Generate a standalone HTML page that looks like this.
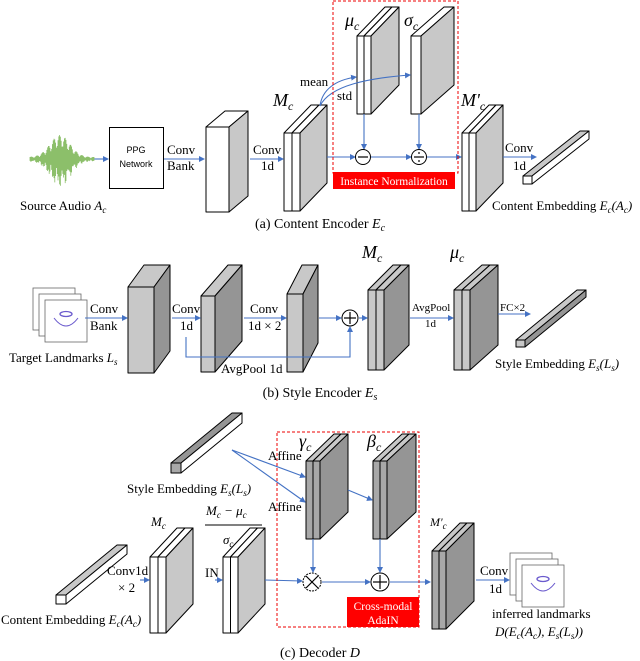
<!DOCTYPE html>
<html><head><meta charset="utf-8"><style>
html,body{margin:0;padding:0;background:#fff;}
svg{display:block;font-family:"Liberation Serif",serif;}
</style></head><body>
<svg id="s" width="640" height="661" viewBox="0 0 640 661" xmlns="http://www.w3.org/2000/svg">
<defs>
<marker id="ar" markerWidth="6" markerHeight="6" refX="5" refY="3" orient="auto" markerUnits="userSpaceOnUse"><path d="M0,0 L6,3 L0,6 z" fill="#4472c4"/></marker>
</defs>
<g id="shapes"></g>
<g stroke="#4472c4" stroke-width="1.1" fill="none" marker-end="url(#ar)">
<!-- (a) -->
<line x1="94" y1="159" x2="108" y2="159"/>
<line x1="164" y1="159" x2="204" y2="159"/>
<line x1="250" y1="159" x2="283" y2="159"/>
<path d="M320,106 C322,90 335,80 356,77"/>
<path d="M320,106 C330,85 370,78 410,75"/>
<line x1="364" y1="114" x2="364" y2="149"/>
<line x1="419" y1="114" x2="419" y2="149"/>
<line x1="327" y1="157" x2="355" y2="157"/>
<line x1="371" y1="157" x2="411" y2="157"/>
<line x1="427" y1="157" x2="461" y2="157"/>
<line x1="503" y1="157" x2="536" y2="157"/>
<!-- (b) -->
<line x1="85" y1="318" x2="127" y2="318"/>
<line x1="172" y1="318" x2="200" y2="318"/>
<line x1="244" y1="318" x2="286" y2="318"/>
<line x1="319" y1="318" x2="341" y2="318"/>
<line x1="359" y1="318" x2="367" y2="318"/>
<line x1="410" y1="318" x2="453" y2="318"/>
<line x1="498" y1="314" x2="530" y2="314"/>
<polyline points="186,337 186,357 350,357 350,327"/>
<!-- (c) -->
<line x1="232" y1="450" x2="305" y2="477"/>
<line x1="232" y1="450" x2="305" y2="502"/>
<line x1="348" y1="490" x2="372" y2="500"/>
<line x1="313" y1="539" x2="313" y2="572"/>
<line x1="380" y1="539" x2="380" y2="572"/>
<line x1="140" y1="580" x2="149" y2="580"/>
<line x1="215" y1="580" x2="222" y2="580"/>
<line x1="265" y1="580" x2="302" y2="581"/>
<line x1="322" y1="582" x2="370" y2="582"/>
<line x1="390" y1="582" x2="430" y2="582"/>
<line x1="476" y1="580" x2="509" y2="580"/>
</g>
<!-- red dashed boxes -->
<rect x="333" y="1" width="125" height="172" fill="none" stroke="#e00" stroke-width="1" stroke-dasharray="3,2"/>
<rect x="333" y="172" width="122" height="17" fill="#f00"/>
<text x="394" y="185" font-size="11.5" fill="#fff" text-anchor="middle">Instance Normalization</text>
<rect x="277" y="432" width="142" height="195" fill="none" stroke="#e00" stroke-width="1" stroke-dasharray="3,2"/>
<rect x="347" y="597" width="72" height="30" fill="#f00"/>
<text x="383" y="610" font-size="11.5" fill="#fff" text-anchor="middle">Cross-modal</text>
<text x="383" y="624" font-size="11.5" fill="#fff" text-anchor="middle">AdaIN</text>
<!-- circles -->
<g fill="#fff" stroke="#000" stroke-width="1">
<circle cx="363" cy="157" r="7.5"/><circle cx="419" cy="157" r="7.5"/>
<circle cx="350" cy="318" r="8"/>
<circle cx="312" cy="582" r="9" stroke-dasharray="2,1"/><circle cx="380" cy="582" r="9"/>
</g>
<g stroke="#000" stroke-width="1.2">
<line x1="358" y1="157" x2="368" y2="157"/>
<line x1="414" y1="157" x2="424" y2="157"/>
<line x1="344" y1="318" x2="356" y2="318"/><line x1="350" y1="312" x2="350" y2="324"/>
<line x1="306" y1="576" x2="318" y2="588"/><line x1="318" y1="576" x2="306" y2="588"/>
<line x1="373" y1="582" x2="387" y2="582"/><line x1="380" y1="575" x2="380" y2="589"/>
</g>
<circle cx="419" cy="153" r="0.9"/><circle cx="419" cy="161" r="0.9"/>
<!-- PPG box -->
<rect x="109.5" y="127.5" width="54" height="61" fill="#fff" stroke="#000"/>
<text x="136" y="153" font-family="Liberation Sans,sans-serif" font-size="9" text-anchor="middle">PPG</text>
<text x="136" y="167" font-family="Liberation Sans,sans-serif" font-size="9" text-anchor="middle">Network</text>
<g id="wave"></g>
<!-- texts (a) -->
<g font-size="13">
<text x="167" y="154">Conv</text><text x="167" y="170">Bank</text>
<text x="253" y="154">Conv</text><text x="261" y="170">1d</text>
<text x="300" y="86">mean</text>
<text x="337" y="100">std</text>
<text x="505" y="152">Conv</text><text x="513" y="170">1d</text>
<text x="20" y="210">Source Audio <tspan font-style="italic">A<tspan font-size="9" dy="3">c</tspan></tspan></text>
<text x="492" y="210">Content Embedding <tspan font-style="italic">E<tspan font-size="9" dy="3">c</tspan><tspan dy="-3">(A</tspan><tspan font-size="9" dy="3">c</tspan><tspan dy="-3">)</tspan></tspan></text>
<text x="320" y="228" font-size="14" text-anchor="middle">(a) Content Encoder <tspan font-style="italic">E<tspan font-size="10" dy="3">c</tspan></tspan></text>
</g>
<g font-size="18" font-style="italic">
<text x="273" y="106">M<tspan font-size="12" dy="4">c</tspan></text>
<text x="345" y="26">μ<tspan font-size="12" dy="4">c</tspan></text>
<text x="404" y="26">σ<tspan font-size="12" dy="4">c</tspan></text>
<text x="461" y="106">M'<tspan font-size="12" dy="4">c</tspan></text>
<text x="362" y="258">M<tspan font-size="12" dy="4">c</tspan></text>
<text x="450" y="258">μ<tspan font-size="12" dy="4">c</tspan></text>
<text x="299" y="447">γ<tspan font-size="12" dy="4">c</tspan></text>
<text x="367" y="447">β<tspan font-size="12" dy="4">c</tspan></text>
</g>
<!-- texts (b) -->
<g font-size="13">
<text x="90" y="313">Conv</text><text x="90" y="330">Bank</text>
<text x="172" y="313">Conv</text><text x="180" y="330">1d</text>
<text x="250" y="313">Conv</text><text x="248" y="330">1d × 2</text>
<text x="221" y="373">AvgPool 1d</text>
<text x="412" y="311" font-size="11">AvgPool</text><text x="425" y="327" font-size="11">1d</text>
<text x="500" y="311" font-size="11">FC×2</text>
<text x="9" y="362">Target Landmarks <tspan font-style="italic">L<tspan font-size="9" dy="3">s</tspan></tspan></text>
<text x="495" y="368">Style Embedding <tspan font-style="italic">E<tspan font-size="9" dy="3">s</tspan><tspan dy="-3">(L</tspan><tspan font-size="9" dy="3">s</tspan><tspan dy="-3">)</tspan></tspan></text>
<text x="320" y="397" font-size="14" text-anchor="middle">(b) Style Encoder <tspan font-style="italic">E<tspan font-size="10" dy="3">s</tspan></tspan></text>
</g>
<!-- texts (c) -->
<g font-size="13">
<text x="268" y="460">Affine</text>
<text x="268" y="511">Affine</text>
<text x="127" y="493">Style Embedding <tspan font-style="italic">E<tspan font-size="9" dy="3">s</tspan><tspan dy="-3">(L</tspan><tspan font-size="9" dy="3">s</tspan><tspan dy="-3">)</tspan></tspan></text>
<text x="107" y="575">Conv1d</text><text x="118" y="592">× 2</text>
<text x="205" y="577">IN</text>
<text x="1" y="624">Content Embedding <tspan font-style="italic">E<tspan font-size="9" dy="3">c</tspan><tspan dy="-3">(A</tspan><tspan font-size="9" dy="3">c</tspan><tspan dy="-3">)</tspan></tspan></text>
<text x="151" y="526" font-style="italic">M<tspan font-size="9" dy="3">c</tspan></text>
<text x="430" y="526" font-style="italic" font-size="12">M'<tspan font-size="9" dy="3">c</tspan></text>
<text x="206" y="515" font-style="italic">M<tspan font-size="9" dy="3">c</tspan><tspan dy="-3"> − μ</tspan><tspan font-size="9" dy="3">c</tspan></text>
<line x1="205" y1="525" x2="262" y2="525" stroke="#000"/>
<text x="223" y="544" font-style="italic">σ<tspan font-size="9" dy="3">c</tspan></text>
<text x="480" y="575">Conv</text><text x="489" y="593">1d</text>
<text x="492" y="618">inferred landmarks</text>
<text x="495" y="636" font-style="italic">D(E<tspan font-size="9" dy="3">c</tspan><tspan dy="-3">(A</tspan><tspan font-size="9" dy="3">c</tspan><tspan dy="-3">), E</tspan><tspan font-size="9" dy="3">s</tspan><tspan dy="-3">(L</tspan><tspan font-size="9" dy="3">s</tspan><tspan dy="-3">))</tspan></text>
<text x="320" y="657" font-size="14" text-anchor="middle">(c) Decoder <tspan font-style="italic">D</tspan></text>
</g>
</svg>
<script>
var NS="http://www.w3.org/2000/svg",g=document.getElementById("shapes");
function el(t,a,p){var e=document.createElementNS(NS,t);for(var k in a)e.setAttribute(k,a[k]);(p||g).appendChild(e);return e;}
function poly(pts,f){el("polygon",{points:pts.map(function(p){return p.join(",")}).join(" "),fill:f,stroke:"#000","stroke-width":1,"stroke-linejoin":"round"});}
function block(x,y,w,h,dx,dy,fr,side,top,n){n=n||1;var sw=w/n;
 for(var i=0;i<n;i++){var X=x+i*sw;
  poly([[X,y],[X+dx,y-dy],[X+sw+dx,y-dy],[X+sw,y]],top);
  poly([[X+sw,y],[X+sw+dx,y-dy],[X+sw+dx,y+h-dy],[X+sw,y+h]],side);
  poly([[X,y],[X+sw,y],[X+sw,y+h],[X,y+h]],fr);}}
var W="#fff",L="#c8c8c8",M="#a8a8a8",D="#959595";
// (a)
block(206,127,23,85,19,16,W,L,W,1);
block(284,133,16,78,27,28,W,L,W,2);
block(357,36,14,78,28,29,W,L,W,2);
block(411,36,10,78,33,29,W,L,W,1);
block(462,133,14,78,27,28,W,L,W,2);
block(523,176,9,8,57,45,W,W,L,1);
// (b)
block(128,287,26,86,16,22,L,D,L,1);
block(201,296,14,76,27,31,L,D,L,1);
block(287,294,16,78,15,29,L,D,L,1);
block(368,290,16,80,25,25,L,D,L,2);
block(454,290,16,80,28,25,L,D,L,2);
block(516,340,9,7,61,50,L,D,L,1);
// (c)
block(171,463,10,10,61,50,M,W,D,1);
block(56,595,10,9,61,50,W,W,L,1);
block(150,557,16,76,27,29,W,L,W,2);
block(223,557,15,76,27,29,W,L,W,2);
block(306,461,14,78,28,27,M,D,L,2);
block(373,461,14,78,29,27,M,D,L,2);
block(432,551,14,78,28,28,M,D,L,2);
// landmark pages
function pages(x,y){for(var i=0;i<3;i++){el("rect",{x:x+i*6,y:y+i*6,width:42,height:42,fill:"#fff",stroke:"#666","stroke-width":0.8});}
 var cx=x+12+21,cy=y+12+20;
 el("path",{d:"M"+(cx-12)+","+(cy-2)+" Q"+cx+","+(cy+14)+" "+(cx+12)+","+(cy-2),fill:"none",stroke:"#6a5acd","stroke-width":1});
 el("ellipse",{cx:cx,cy:cy-6,rx:6,ry:2.5,fill:"none",stroke:"#6a5acd","stroke-width":1.3});}
pages(33,288);pages(510,553);
// waveform
var wv=document.getElementById("wave"),d="";
for(var x=30;x<94;x+=0.8){var c=Math.exp(-Math.pow((x-60)/14,2))*22+2;var a=c*(0.4+0.6*Math.abs(Math.sin(x*7.3)));d+="M"+x+","+(159-a)+"L"+x+","+(159+a*(0.7+0.5*Math.abs(Math.cos(x*5.1))));}
el("path",{d:d,stroke:"#8cbf6a","stroke-width":0.8,fill:"none"},wv);
</script>
</body></html>
